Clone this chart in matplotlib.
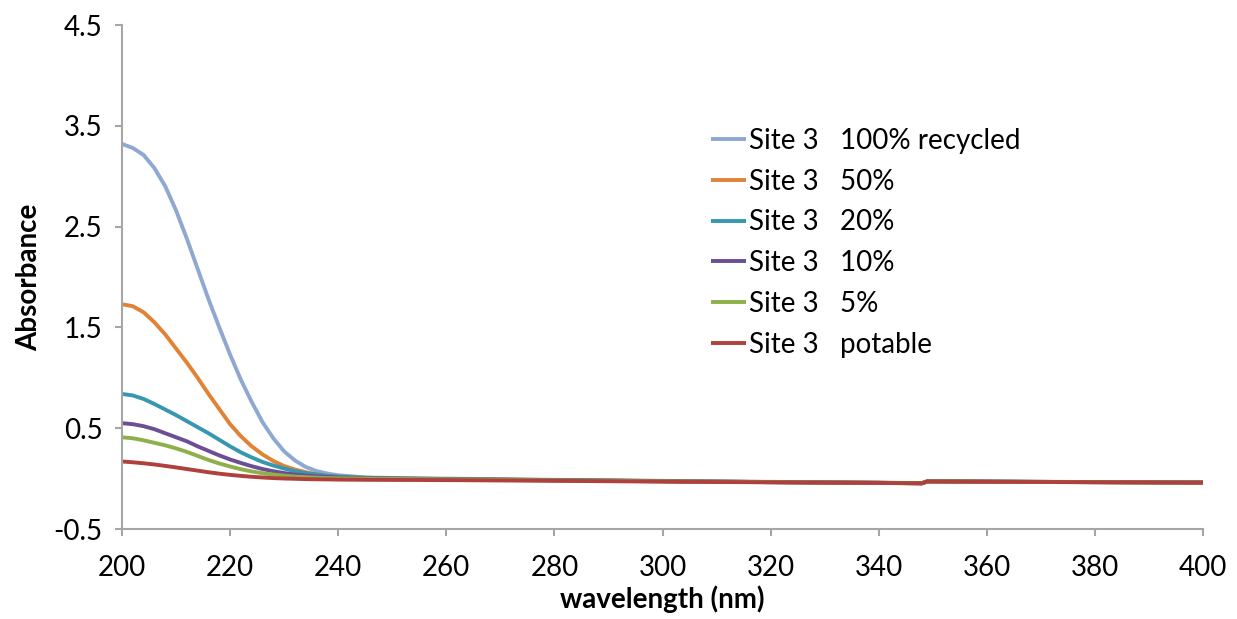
import numpy as np
import matplotlib.pyplot as plt

plt.rcParams['font.family'] = ['Lato', 'DejaVu Sans']

# wavelength grid (nm)
wl = [200, 202, 204, 206, 208, 210, 212, 214, 216, 218, 220, 222, 224, 226,
      228, 230, 232, 234, 236, 238, 240, 245, 250,
      260, 280, 300, 320, 340, 348, 349, 360, 380, 400]

abs_100 = [3.32, 3.28, 3.21, 3.08, 2.90, 2.66, 2.38, 2.08, 1.78, 1.50, 1.23, 0.98, 0.76, 0.56,
           0.40, 0.27, 0.18, 0.115, 0.075, 0.05, 0.033, 0.012, 0.006,
           0.0, -0.012, -0.022, -0.032, -0.040, -0.045, -0.026, -0.029, -0.034, -0.038]
abs_50 = [1.73, 1.71, 1.65, 1.55, 1.43, 1.29, 1.15, 1.00, 0.84, 0.69, 0.54, 0.42, 0.32, 0.24,
          0.175, 0.125, 0.09, 0.063, 0.043, 0.028, 0.018, 0.006, 0.0,
          -0.004, -0.014, -0.024, -0.034, -0.041, -0.046, -0.027, -0.030, -0.035, -0.039]
abs_20 = [0.84, 0.825, 0.79, 0.74, 0.685, 0.63, 0.57, 0.51, 0.45, 0.385, 0.32, 0.26, 0.21, 0.165,
          0.13, 0.10, 0.075, 0.055, 0.04, 0.028, 0.02, 0.008, 0.003,
          -0.005, -0.015, -0.025, -0.035, -0.042, -0.046, -0.027, -0.030, -0.035, -0.039]
abs_10 = [0.55, 0.54, 0.52, 0.49, 0.45, 0.41, 0.37, 0.32, 0.275, 0.23, 0.19, 0.155, 0.123, 0.095,
          0.073, 0.055, 0.041, 0.03, 0.021, 0.015, 0.01, 0.004, 0.0,
          -0.006, -0.016, -0.026, -0.035, -0.042, -0.046, -0.028, -0.030, -0.035, -0.039]
abs_5 = [0.41, 0.40, 0.38, 0.355, 0.33, 0.30, 0.265, 0.225, 0.185, 0.15, 0.12, 0.093, 0.071, 0.053,
         0.04, 0.029, 0.02, 0.014, 0.009, 0.005, 0.003, 0.0, -0.003,
         -0.008, -0.018, -0.027, -0.036, -0.043, -0.047, -0.028, -0.031, -0.036, -0.040]
abs_potable = [0.17, 0.162, 0.152, 0.14, 0.126, 0.111, 0.095, 0.079, 0.063, 0.049, 0.037, 0.027, 0.018, 0.011,
               0.005, 0.001, -0.002, -0.005, -0.007, -0.008, -0.01, -0.012, -0.013,
               -0.015, -0.022, -0.03, -0.037, -0.043, -0.047, -0.028, -0.031, -0.036, -0.040]

labels = ['Site 3   100% recycled', 'Site 3   50%', 'Site 3   20%',
          'Site 3   10%', 'Site 3   5%', 'Site 3   potable']
colors = ['#8EA8D2', '#E08336', '#3796B0', '#6B4E94', '#8DB04A', '#B0403C']

series = [abs_100, abs_50, abs_20, abs_10, abs_5, abs_potable]

fig = plt.figure(figsize=(12.37, 6.19), dpi=100)
ax = fig.add_axes([122 / 1237, 1 - 529 / 619, (1203 - 122) / 1237, (529 - 25) / 619])

for y, lab, c in zip(series, labels, colors):
    ax.plot(wl, y, color=c, lw=2.8, label=lab, solid_capstyle='butt', solid_joinstyle='round')

ax.set_xlim(200, 400)
ax.set_ylim(-0.5, 4.5)
ax.set_xticks(np.arange(200, 401, 20))
ax.set_yticks(np.arange(-0.5, 4.6, 1.0))
ax.set_yticklabels(['-0.5', '0.5', '1.5', '2.5', '3.5', '4.5'])

for s in ['top', 'right']:
    ax.spines[s].set_visible(False)
for s in ['left', 'bottom']:
    ax.spines[s].set_color('#A6A6A6')
    ax.spines[s].set_linewidth(1.5)
ax.tick_params(axis='both', direction='out', length=5, width=1.5, color='#A6A6A6',
               labelsize=20, labelcolor='black')
ax.tick_params(axis='x', pad=14)
ax.tick_params(axis='y', pad=9)

ax.set_xlabel('wavelength (nm)', fontsize=20, fontweight='bold', labelpad=3)
ax.set_ylabel('Absorbance', fontsize=20, fontweight='bold', labelpad=8)

ax.legend(loc='upper left', bbox_to_anchor=(697 / 1237, 1 - 114 / 619),
          bbox_transform=fig.transFigure, frameon=False, fontsize=20,
          handlelength=1.26, handletextpad=0.1, labelspacing=0.53, borderpad=0)

fig.savefig('out.png', dpi=100)
